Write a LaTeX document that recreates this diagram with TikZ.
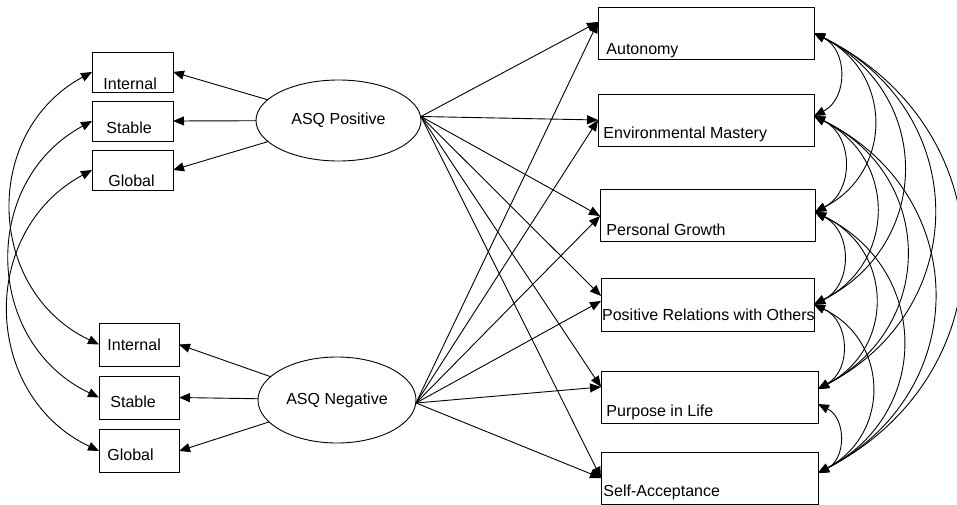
\documentclass[tikz,border=0pt]{standalone}
\usepackage{fontspec}
\setmainfont{Liberation Sans}
\usetikzlibrary{arrows.meta,shapes.geometric}
\begin{document}
\begin{tikzpicture}[x=1pt,y=-1pt,line width=0.9pt,
  font=\fontsize{16}{19}\selectfont,
  obs/.style={draw, rectangle, inner sep=0pt, outer sep=0pt},
  lat/.style={draw, ellipse, inner sep=0pt, outer sep=0pt},
  lbl/.style={anchor=base west, inner sep=0pt},
  path/.style={-{Triangle[length=11pt,width=9pt]}},
  cov/.style={{Triangle[length=11pt,width=9pt]}-{Triangle[length=11pt,width=9pt]}, looseness=1.18},
]
\useasboundingbox (0,0) rectangle (957,505);

% latent factors
\node[lat, minimum width=165pt, minimum height=81pt] (pos) at (338.5,120.5) {ASQ Positive};
\node[lat, minimum width=158pt, minimum height=86pt] (neg) at (337,400) {ASQ Negative};

% indicators of ASQ Positive
\node[obs, minimum width=81pt, minimum height=40pt] (iP) at (132.5,72) {};
\node[obs, minimum width=81pt, minimum height=40pt] (sP) at (132.5,121) {};
\node[obs, minimum width=81pt, minimum height=40pt] (gP) at (132.5,170) {};
\node[lbl] (iPt) at (103,89.3) {Internal};
\node[lbl] (sPt) at (106,134) {Stable};
\node[lbl] (gPt) at (108,186.7) {Global};

% indicators of ASQ Negative
\node[obs, minimum width=80pt, minimum height=43pt] (iN) at (139,344.5) {};
\node[obs, minimum width=80pt, minimum height=43pt] (sN) at (139,397.5) {};
\node[obs, minimum width=80pt, minimum height=43pt] (gN) at (139,451) {};
\node[lbl] (iNt) at (107,350.7) {Internal};
\node[lbl] (sNt) at (110,407.7) {Stable};
\node[lbl] (gNt) at (107,460) {Global};

% well-being outcomes
\node[obs, minimum width=216pt, minimum height=52pt] (aut) at (706,33) {};
\node[obs, minimum width=216pt, minimum height=52pt] (env) at (706,120) {};
\node[obs, minimum width=215pt, minimum height=52pt] (pg)  at (707.5,215) {};
\node[obs, minimum width=213pt, minimum height=53pt] (pr)  at (707.5,304.5) {};
\node[obs, minimum width=217pt, minimum height=52pt] (pil) at (709.5,397) {};
\node[obs, minimum width=217pt, minimum height=52pt] (sa)  at (709.5,478) {};
\node[lbl] (autt) at (606,54.3) {Autonomy};
\node[lbl] (envt) at (603,138.3) {Environmental Mastery};
\node[lbl] (pgt)  at (606,235.7) {Personal Growth};
\node[lbl] (prt)  at (601.7,320) {Positive Relations with Others};
\node[lbl] (pilt) at (606,416) {Purpose in Life};
\node[lbl] (sat)  at (603,496) {Self-Acceptance};

% loadings
\draw[path] (pos) -- (iP.east);
\draw[path] (pos) -- (sP.east);
\draw[path] (pos) -- (gP.east);
\draw[path] (neg) -- (iN.east);
\draw[path] (neg) -- (sN.east);
\draw[path] (neg) -- (gN.east);

% structural paths
\draw[path] ([yshift=4pt]pos.east) -- ([yshift=11pt]aut.west);
\draw[path] ([yshift=4pt]pos.east) -- (env.west);
\draw[path] ([yshift=4pt]pos.east) -- ([yshift=-1pt]pg.west);
\draw[path] ([yshift=4pt]pos.east) -- ([yshift=8.5pt]pr.west);
\draw[path] ([yshift=4pt]pos.east) -- ([yshift=10pt]pil.west);
\draw[path] ([yshift=4pt]pos.east) -- (sa.west);
\draw[path] ([yshift=-3pt]neg.east) -- ([yshift=11pt]aut.west);
\draw[path] ([yshift=-3pt]neg.east) -- (env.west);
\draw[path] ([yshift=-3pt]neg.east) -- ([yshift=-1pt]pg.west);
\draw[path] ([yshift=-3pt]neg.east) -- ([yshift=3.5pt]pr.west);
\draw[path] ([yshift=-3pt]neg.east) -- ([yshift=10pt]pil.west);
\draw[path] ([yshift=-3pt]neg.east) -- (sa.west);

% covariances between matching indicators
\draw[cov] (iP.west) to[bend right=63] (iN.west);
\draw[cov] (sP.west) to[bend right=63] (sN.west);
\draw[cov] (gP.west) to[bend right=63] (gN.west);

% covariances among outcomes
\coordinate (cA)  at (aut.east);
\coordinate (cE)  at ([yshift=4pt]env.east);
\coordinate (cG)  at ([yshift=3pt]pg.east);
\coordinate (cR)  at (pr.east);
\coordinate (cPu) at ([yshift=8pt]pil.east);
\coordinate (cPl) at ([yshift=-7pt]pil.east);
\coordinate (cS)  at ([yshift=5pt]sa.east);
\foreach \a/\b in {cA/cE, cE/cG, cG/cR, cR/cPu, cPl/cS}
  \draw[cov] (\a) to[bend left=63] (\b);
\foreach \a/\b in {cA/cG, cA/cR, cA/cPu, cA/cS,
                   cE/cR, cE/cPu, cE/cS,
                   cG/cPu, cG/cS, cR/cS}
  \draw[cov, looseness=1.26] (\a) to[bend left=63] (\b);
\end{tikzpicture}
\end{document}
